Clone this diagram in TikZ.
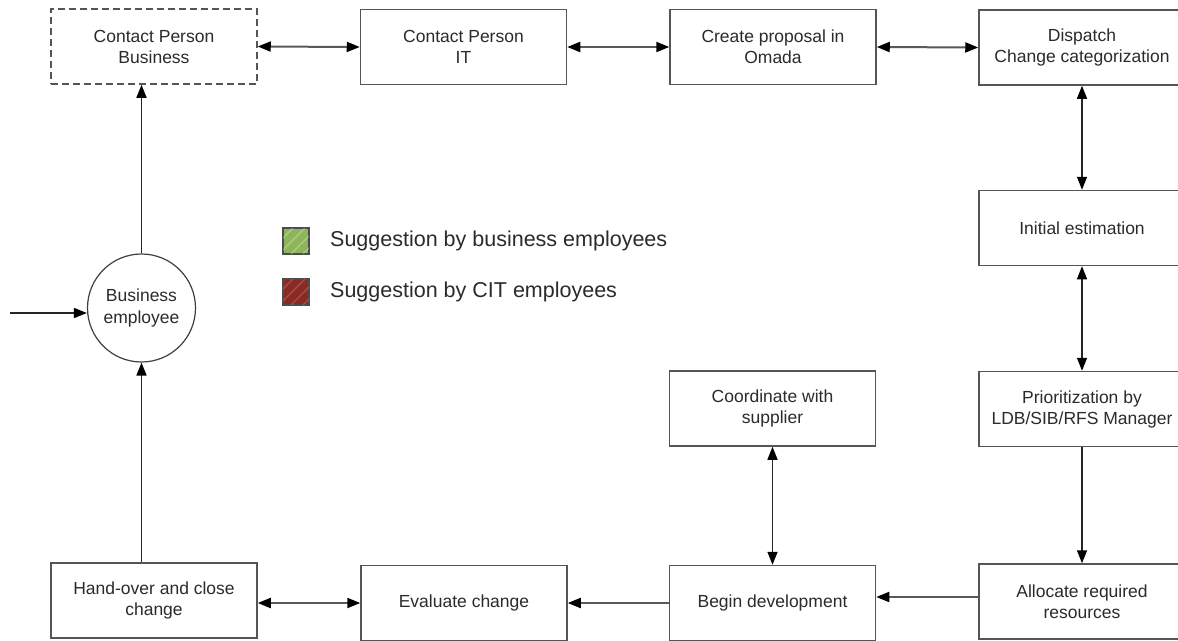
\documentclass[tikz,border=0pt]{standalone}
\usepackage{fontspec}
\setmainfont{Liberation Sans}
\usetikzlibrary{arrows.meta}
\definecolor{boxline}{HTML}{555555}
\definecolor{txt}{HTML}{2B2B2B}
\definecolor{lgreen}{HTML}{8DB55A}
\definecolor{lred}{HTML}{8A2A22}
\tikzset{
  stepbox/.style={draw=boxline, line width=1.5pt, fill=white, minimum width=206pt, minimum height=75pt,
    inner sep=0pt, align=center, text=txt, font=\fontsize{17.5}{21}\selectfont},
  dashbox/.style={stepbox, dash pattern=on 7pt off 4pt},
  person/.style={draw=black!75, line width=1.2pt, circle, minimum size=108pt, inner sep=0pt, align=center,
    text=txt, font=\fontsize{17.5}{22}\selectfont},
  conn/.style={draw=black!85, line width=1.5pt},
  hconn/.style={draw=black!65, line width=2pt},
  tip/.style={-{Triangle[length=13pt,width=10pt,color=black]}},
  both/.style={{Triangle[length=13pt,width=10pt,color=black]}-{Triangle[length=13pt,width=10pt,color=black]}},
  legtext/.style={anchor=west, inner sep=0pt, text=txt, font=\fontsize{21.5}{24}\selectfont},
  legsq/.style={draw=black!70, line width=1.2pt, minimum size=26pt, inner sep=0pt},
}
\begin{document}
\begin{tikzpicture}[x=1pt, y=-1pt]
\clip (0,0) rectangle (1178,640);
\fill[white] (0,0) rectangle (1178,640);

\node[dashbox] (cpb) at (154,46.5) {Contact Person\\Business};
\node[stepbox] (cpit) at (463.5,47) {Contact Person\\IT};
\node[stepbox] (prop) at (773,47) {Create proposal in\\Omada};
\node[stepbox] (disp) at (1082,47.5) {Dispatch\\Change categorization};
\node[stepbox] (init) at (1082,228) {Initial estimation};
\node[stepbox] (prio) at (1082,409) {Prioritization by\\LDB/SIB/RFS Manager};
\node[stepbox] (alloc) at (1082,601.5) {Allocate required\\resources};
\node[stepbox] (coord) at (772.5,408.5) {Coordinate with\\supplier};
\node[stepbox] (begin) at (772.5,603) {Begin development};
\node[stepbox] (eval) at (464,603) {Evaluate change};
\node[stepbox] (hand) at (154,600.5) {Hand-over and close\\change};
\node[person] (emp) at (141.5,308) {Business\\employee};
\coordinate (start) at (10,313);

% legend
\node[legsq, fill=lgreen] (lg) at (296,241) {};
\node[legsq, fill=lred] (lr) at (296,292) {};
\begin{scope}
  \clip (283,228) rectangle (309,254);
  \foreach \d in {-16,-4,8,20} \draw[white, opacity=0.3, line width=1.2pt] (283+\d,254) -- (309+\d,228);
\end{scope}
\begin{scope}
  \clip (283,279) rectangle (309,305);
  \foreach \d in {-16,-4,8,20} \draw[white, opacity=0.2, line width=1.2pt] (283+\d,305) -- (309+\d,279);
\end{scope}
\node[legtext] (lgt) at (330,241) {Suggestion by business employees};
\node[legtext] (lrt) at (330,292) {Suggestion by CIT employees};

% connectors
\draw[hconn, both] (cpb.east) -- (cpit.west);
\draw[hconn, both] (cpit.east) -- (prop.west);
\draw[hconn, both] (prop.east) -- (disp.west);
\draw[conn, both] (disp.south) -- (init.north);
\draw[conn, both] (init.south) -- (prio.north);
\draw[conn, tip] (prio.south) -- (alloc.north);
\draw[hconn, tip] ([yshift=4.5pt]alloc.west) -- ([yshift=4.5pt]alloc.west -| begin.east);
\draw[hconn, tip] (begin.west) -- (eval.east);
\draw[hconn, both] (eval.west) -- (eval.west -| hand.east);
\draw[conn, both] (coord.south) -- (begin.north);
\draw[conn, tip] (hand.north -| emp) -- (emp.south);
\draw[conn, tip] (emp.north) -- (emp.north |- cpb.south);
\draw[conn, tip] (start) -- (start -| emp.west);
\end{tikzpicture}
\end{document}
